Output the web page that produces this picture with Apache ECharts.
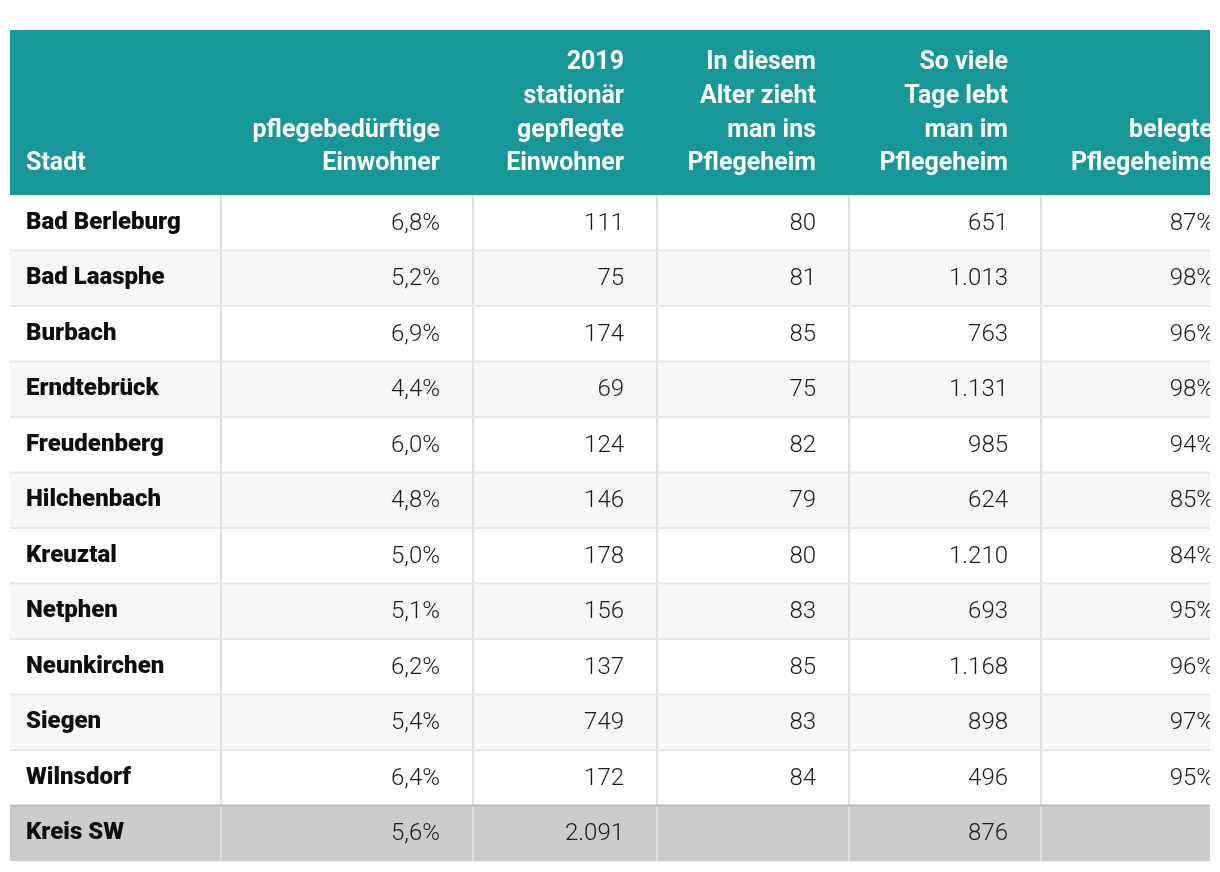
<!DOCTYPE html>
<html>
<head>
<meta charset="utf-8">
<script src="https://cdn.jsdelivr.net/npm/echarts@6/dist/echarts.min.js"></script>
<style>
html,body{margin:0;padding:0;background:#fff;}
#chart{width:1220px;height:872px;}
</style>
</head>
<body>
<div id="chart"></div>
<script>
// ---- data ----
const headerLabels = [
  'Stadt',
  'pflegebedürftige\nEinwohner',
  '2019\nstationär\ngepflegte\nEinwohner',
  'In diesem\nAlter zieht\nman ins\nPflegeheim',
  'So viele\nTage lebt\nman im\nPflegeheim',
  'belegte\nPflegeheime'
];
const cities = ['Bad Berleburg','Bad Laasphe','Burbach','Erndtebrück','Freudenberg','Hilchenbach','Kreuztal','Netphen','Neunkirchen','Siegen','Wilnsdorf'];
const totalLabel = 'Kreis SW';
const pflegebeduerftig = [6.8,5.2,6.9,4.4,6.0,4.8,5.0,5.1,6.2,5.4,6.4];
const pflegebeduerftigTotal = 5.6;
const stationaer = [111,75,174,69,124,146,178,156,137,749,172];
const stationaerTotal = 2091;
const einzugsalter = [80,81,85,75,82,79,80,83,85,83,84];
const einzugsalterTotal = null;
const tage = [651,1013,763,1131,985,624,1210,693,1168,898,496];
const tageTotal = 876;
const belegt = [87,98,96,98,94,85,84,95,96,97,95];
const belegtTotal = null;

// ---- layout / style ----
const colEdges = [10, 221, 473, 657, 849, 1041, 1247];
const padL = 16, padR = 33;
const teal = '#179797';
const nameFont = '900 24px Roboto, "Open Sans", sans-serif';
const headFont = 'bold 25px Roboto, "Open Sans", sans-serif';
const valueFont = '300 24px Roboto, "Open Sans", sans-serif';

const rows = cities.concat([totalLabel]);
const colPct = pflegebeduerftig.concat([pflegebeduerftigTotal]);
const colStat = stationaer.concat([stationaerTotal]);
const colAlter = einzugsalter.concat([einzugsalterTotal]);
const colTage = tage.concat([tageTotal]);
const colBelegt = belegt.concat([belegtTotal]);

function fmtInt(n){ return n == null ? '' : String(n).replace(/\B(?=(\d{3})+(?!\d))/g, '.'); }
function fmtPct1(n){ return n == null ? '' : n.toFixed(1).replace('.', ',') + '%'; }
function fmtPct0(n){ return n == null ? '' : n + '%'; }

const tableData = rows.map((r, i) => [0, r, fmtPct1(colPct[i]), fmtInt(colStat[i]), fmtInt(colAlter[i]), fmtInt(colTage[i]), fmtPct0(colBelegt[i])]);

const chart = echarts.init(document.getElementById('chart'), null, {renderer: 'canvas'});

function renderItem(params, api) {
  const i = params.dataIndex;
  const isTotal = i === rows.length - 1;
  const center = api.coord([0, i]);
  const h = api.size([0, 1])[1];
  const yTop = center[1] - h / 2;
  const xs = colEdges.map(e => api.coord([e, i])[0]);
  const children = [];
  const bg = isTotal ? '#cccccc' : (i % 2 === 0 ? '#ffffff' : '#f7f7f7');
  children.push({type: 'rect', shape: {x: xs[0], y: yTop, width: xs[xs.length-1] - xs[0], height: h}, style: {fill: bg}});
  if (i > 0) {
    children.push({type: 'rect', shape: {x: xs[0], y: yTop - 1, width: xs[xs.length-1] - xs[0], height: 2}, style: {fill: isTotal ? '#b9b9b9' : '#e6e6e6'}});
  }
  for (let k = 1; k < xs.length - 1; k++) {
    children.push({type: 'rect', shape: {x: xs[k] - 1, y: yTop + (i > 0 ? 1 : 0), width: 2, height: h - (i > 0 ? 1 : 0)}, style: {fill: '#e0e0e0'}});
  }
  children.push({type: 'text', style: {text: rows[i], x: xs[0] + padL, y: center[1], align: 'left', verticalAlign: 'middle', font: nameFont, fill: '#0d0d0d'}});
  const vals = tableData[i];
  for (let k = 1; k < 6; k++) {
    const right = xs[k + 1] - padR;
    children.push({type: 'text', style: {text: vals[k + 1], x: right, y: center[1] + 1, align: 'right', verticalAlign: 'middle', font: valueFont, fill: '#1a1a1a'}});
  }
  return {type: 'group', children: children};
}

const headerGraphics = [
  {type: 'rect', left: 10, top: 30, shape: {width: 1200, height: 165}, style: {fill: teal}, z: 10}
];
headerLabels.forEach((lab, k) => {
  const isFirst = k === 0;
  const isLast = k === headerLabels.length - 1;
  const x = isFirst ? colEdges[0] + padL : (isLast ? 1213 : colEdges[k + 1] - padR);
  headerGraphics.push({
    type: 'text', x: x, y: 181, z: 11,
    style: {text: lab, align: isFirst ? 'left' : 'right', verticalAlign: 'bottom', font: headFont, lineHeight: 33.7, fill: '#ffffff'}
  });
});

chart.setOption({
  animation: false,
  grid: {left: 0, right: 10, top: 195, bottom: 11, containLabel: false},
  xAxis: {type: 'value', min: 0, max: 1210, show: false},
  yAxis: {type: 'category', data: rows, inverse: true, show: false},
  graphic: headerGraphics,
  series: [{
    type: 'custom',
    clip: true,
    renderItem: renderItem,
    encode: {x: 0, y: 1},
    data: tableData
  }]
});
</script>
</body>
</html>
